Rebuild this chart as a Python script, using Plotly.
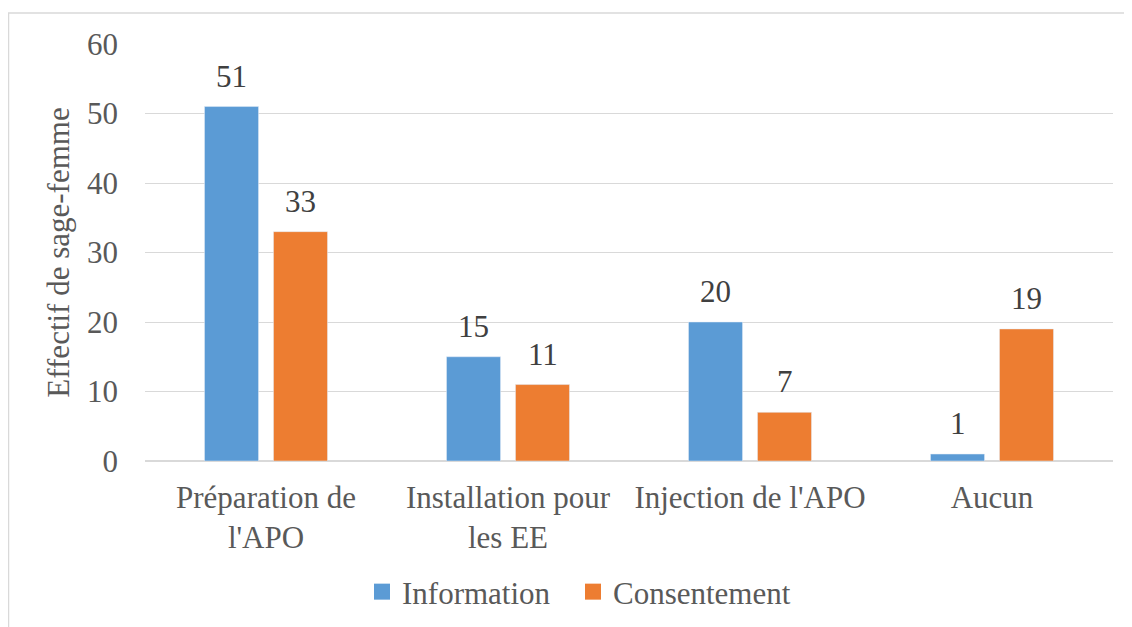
import plotly.graph_objects as go

categories = ["Préparation de<br>l'APO", "Installation pour<br>les EE", "Injection de l'APO", "Aucun"]
information = [51, 15, 20, 1]
consentement = [33, 11, 7, 19]
y_ticks = [0, 10, 20, 30, 40, 50, 60]

BLUE, ORANGE = "#5B9BD5", "#ED7D31"
W, H = 1132, 627
# page body has an 8px offset; compensate so the plot area lands at screen 145..1113 / 44..461
L, R, T, B = 137, 27, 36, 174
pw, ph = W - L - R, H - T - B

FONT = "Liberation Serif"
GRAY = "#595959"

fig = go.Figure()
for name, vals, col, leg in [("Information", information, BLUE, "legend"),
                             ("Consentement", consentement, ORANGE, "legend2")]:
    fig.add_trace(go.Bar(name=name, x=categories, y=vals, marker_color=col, showlegend=False))
    fig.add_trace(go.Scatter(name=name, x=[None], y=[None], mode="markers", legend=leg,
                             marker=dict(symbol="square", size=16, color=col)))

half = 34.5
for vals, sh in [(information, -half), (consentement, half)]:
    for c, v in zip(categories, vals):
        fig.add_annotation(x=c, y=v, xref="x", yref="y", text=str(v), showarrow=False,
                           xshift=sh, yanchor="bottom", yshift=11,
                           font=dict(size=31, color="#404040", family=FONT))

leg_common = dict(orientation="h", xanchor="left", y=(H - (592 - 8) - B) / ph, yanchor="middle",
                  font=dict(size=31, color=GRAY, family=FONT), itemwidth=30,
                  bgcolor="rgba(0,0,0,0)")

fig.update_layout(
    width=W, height=H,
    margin=dict(l=L, r=R, t=T, b=B),
    paper_bgcolor="white", plot_bgcolor="white",
    barmode="group", bargap=0.43, bargroupgap=0.217,
    font=dict(family=FONT, color=GRAY, size=31),
    legend=dict(x=(354 - L) / pw, **leg_common),
    legend2=dict(x=(565 - L) / pw, **leg_common),
    xaxis=dict(showgrid=False, showline=False, ticks="", ticklabelstandoff=15,
               tickfont=dict(size=31, color=GRAY, family=FONT)),
    yaxis=dict(range=[0, 60], tickvals=y_ticks, showgrid=True, gridcolor="#d9d9d9", gridwidth=1,
               zeroline=True, zerolinecolor="#d9d9d9", zerolinewidth=1.5,
               tickfont=dict(size=31, color=GRAY, family=FONT), ticklabelstandoff=26,
               title=dict(text="Effectif de sage-femme", font=dict(size=31, color=GRAY, family=FONT), standoff=8)),
    shapes=[dict(type="rect", xref="paper", yref="paper",
                 x0=(0.5 - L) / pw, x1=(W + 20 - L) / pw,
                 y0=(-20 - B) / ph, y1=(H - 5 - B) / ph,
                 line=dict(color="#d9d9d9", width=1.5), fillcolor="rgba(0,0,0,0)", layer="below")],
)

fig.write_html("out.html")
